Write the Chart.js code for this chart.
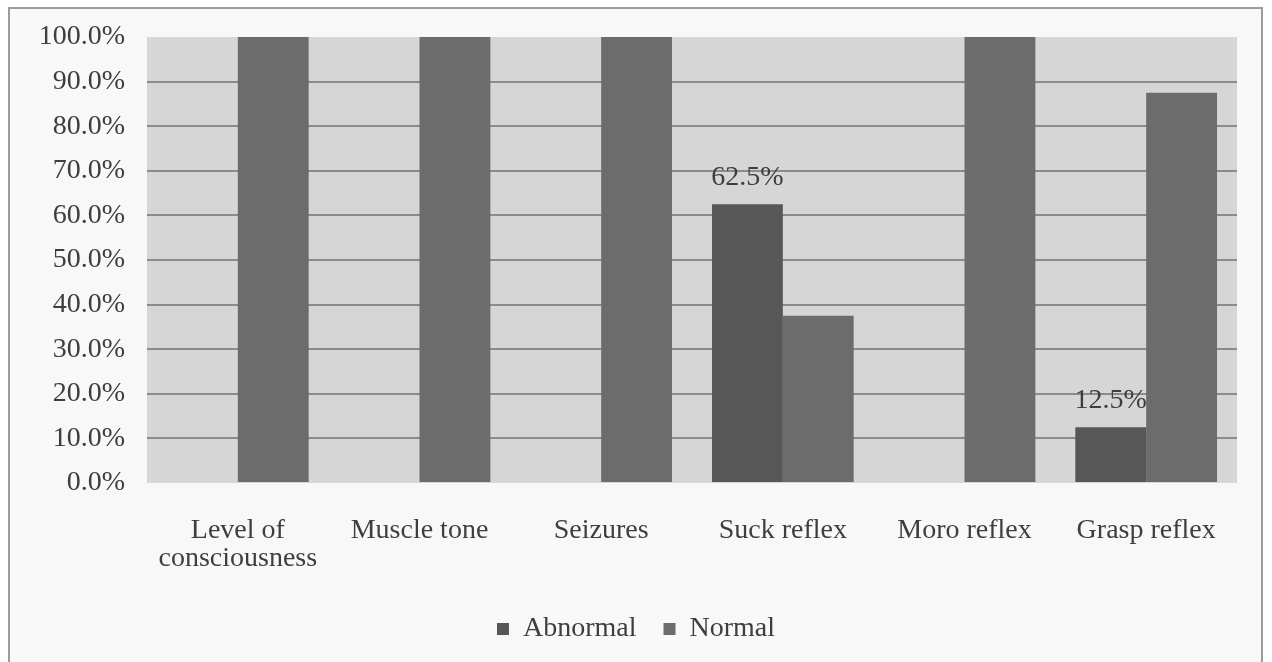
<!DOCTYPE html>
<html>
<head>
<meta charset="utf-8">
<script src="https://cdn.jsdelivr.net/npm/chart.js@4/dist/chart.umd.min.js"></script>
<style>
  html, body { margin: 0; padding: 0; background: #ffffff; }
  #wrap { width: 1272px; height: 662px; position: relative; }
  canvas { display: block; filter: blur(0.4px); }
</style>
</head>
<body>
<div id="wrap"><canvas id="chart" width="1272" height="662"></canvas></div>
<script>
// Neurological examination findings, share of cases per item
const categories = [
  ['Level of', 'consciousness'],
  'Muscle tone',
  'Seizures',
  'Suck reflex',
  'Moro reflex',
  'Grasp reflex'
];
const abnormal = [0, 0, 0, 62.5, 0, 12.5];
const normal = [100, 100, 100, 37.5, 100, 87.5];
const yTicks = [0, 10, 20, 30, 40, 50, 60, 70, 80, 90, 100];

const SERIF = '"Liberation Serif", "Times New Roman", serif';
const TEXT = '#3e3e3e';

// Page frame and light panel behind the chart
const framePlugin = {
  id: 'frame',
  beforeDraw(chart) {
    const c = chart.ctx;
    c.save();
    c.fillStyle = '#ffffff';
    c.fillRect(0, 0, chart.width, chart.height);
    c.fillStyle = '#f8f8f8';
    c.fillRect(9, 9, 1252, 660);
    c.strokeStyle = '#9c9c9c';
    c.lineWidth = 2;
    c.strokeRect(9, 8, 1253, 700);
    const a = chart.chartArea;
    c.fillStyle = '#d6d6d6';
    c.fillRect(a.left, a.top, a.right - a.left, a.bottom - a.top);
    c.restore();
  }
};

// Value labels above the non-zero "Abnormal" bars
const valueLabels = {
  id: 'valueLabels',
  afterDatasetsDraw(chart) {
    const c = chart.ctx;
    const meta = chart.getDatasetMeta(0);
    c.save();
    c.font = '28px ' + SERIF;
    c.fillStyle = TEXT;
    c.textAlign = 'center';
    c.textBaseline = 'middle';
    meta.data.forEach((bar, i) => {
      const v = abnormal[i];
      if (v > 0) c.fillText(v.toFixed(1) + '%', bar.x, bar.y - 27);
    });
    c.restore();
  }
};

new Chart(document.getElementById('chart'), {
  type: 'bar',
  data: {
    labels: categories,
    datasets: [
      { label: 'Abnormal', data: abnormal, backgroundColor: '#575757', borderWidth: 0 },
      { label: 'Normal', data: normal, backgroundColor: '#6c6c6c', borderWidth: 0 }
    ]
  },
  options: {
    responsive: false,
    animation: false,
    devicePixelRatio: 1,
    layout: { padding: { top: 37, right: 35, left: 35, bottom: 9 } },
    datasets: { bar: { categoryPercentage: 0.78, barPercentage: 1.0 } },
    scales: {
      x: {
        grid: { display: false, drawTicks: false },
        border: { display: false },
        ticks: {
          color: TEXT,
          padding: 34,
          maxRotation: 0,
          autoSkip: false,
          font: { family: SERIF, size: 28, lineHeight: 1.0 }
        },
        afterFit(scale) { scale.height = 105; }
      },
      y: {
        min: 0,
        max: 100,
        afterBuildTicks(scale) { scale.ticks = yTicks.map(v => ({ value: v })); },
        grid: {
          drawTicks: false,
          lineWidth: 2,
          color: ctx => (ctx.tick && (ctx.tick.value === 0 || ctx.tick.value === 100)) ? 'rgba(0,0,0,0)' : '#8b8b8b'
        },
        border: { display: false },
        ticks: {
          color: TEXT,
          padding: 22,
          font: { family: SERIF, size: 28, lineHeight: 1.0 },
          callback: v => Number(v).toFixed(1) + '%'
        },
        afterFit(scale) { scale.width = 112; }
      }
    },
    plugins: {
      legend: {
        position: 'bottom',
        labels: {
          color: TEXT,
          boxWidth: 12,
          boxHeight: 12,
          padding: 27,
          font: { family: SERIF, size: 28, lineHeight: 1.0 }
        }
      },
      tooltip: { enabled: false }
    }
  },
  plugins: [framePlugin, valueLabels]
});
</script>
</body>
</html>
